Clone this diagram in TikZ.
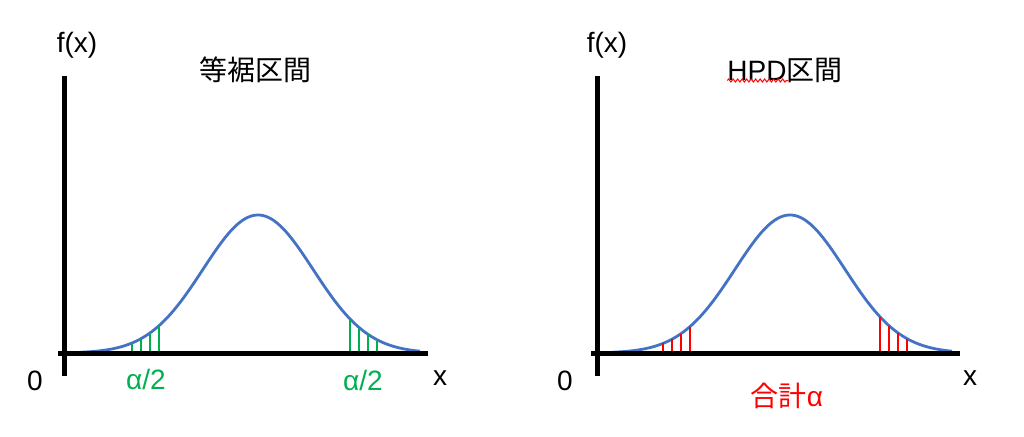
\documentclass[tikz,border=0pt]{standalone}
\usepackage{fontspec}
\setmainfont{Liberation Sans}
\newfontfamily\jp{Noto Sans CJK JP}
\usetikzlibrary{decorations.pathmorphing}

\definecolor{curveblue}{RGB}{68,114,196}
\definecolor{tailgreen}{RGB}{0,176,80}
\definecolor{tailred}{RGB}{255,0,0}

\begin{document}
\begin{tikzpicture}[
    x=1pt, y=-1pt,
    axis/.style={line width=5pt, black},
    bell/.style={line width=2.8pt, curveblue},
    hatchG/.style={line width=2.8pt, tailgreen},
    hatchR/.style={line width=2.8pt, tailred},
    lbl/.style={font=\fontsize{28}{32}\selectfont, inner sep=0pt}
  ]
    \useasboundingbox (0,0) rectangle (1024,436);

    % left panel
    \coordinate (oA) at (64,353);
    \coordinate (ytopA) at (64,76);
    \coordinate (ybotA) at (64,376);
    \coordinate (xlA) at (58,353);
    \coordinate (xrA) at (428,353);
    \draw[bell] plot[domain=80:420, samples=120] (\x, {353-138*exp(-0.5*((\x-258)/55)^2)});
    \foreach \p in {132,141,150,159,350,359,368,377}
      \draw[hatchG] (\p,353) -- (\p,{353-138*exp(-0.5*((\p-258)/55)^2)});
    \draw[axis] (ytopA) -- (ybotA);
    \draw[axis] (xlA) -- (xrA);
    \node[lbl] (fxA) at (77,45) {f(x)};
    \node[lbl] (titleA) at (255,70) {\jp 等裾区間};
    \node[lbl] (zeroA) at (35,381) {0};
    \node[lbl] (xA) at (440,378) {x};
    \node[lbl, text=tailgreen] (alphaL) at (146,379) {α/2};
    \node[lbl, text=tailgreen] (alphaR) at (363,380) {α/2};

    % right panel
    \begin{scope}[xshift=532pt]
      \coordinate (oB) at (65,353);
      \coordinate (ytopB) at (65,76);
      \coordinate (ybotB) at (65,376);
      \coordinate (xlB) at (59,353);
      \coordinate (xrB) at (428,353);
      \draw[bell] plot[domain=80:420, samples=120] (\x, {353-138*exp(-0.5*((\x-258)/55)^2)});
      \foreach \p in {131,140,149,158,348,357,366,375}
        \draw[hatchR] (\p,353) -- (\p,{353-138*exp(-0.5*((\p-258)/55)^2)});
      \draw[axis] (ytopB) -- (ybotB);
      \draw[axis] (xlB) -- (xrB);
      \node[lbl] (fxB) at (75,45) {f(x)};
      \node[lbl] (titleB) at (253,70) {HPD{\jp 区間}};
      \node[lbl] (zeroB) at (33,381) {0};
      \node[lbl] (xB) at (438,378) {x};
      \node[lbl, text=tailred] (total) at (255,396) {{\jp 合計}α};
      \draw[tailred, line width=1pt, decorate,
        decoration={snake, amplitude=1.5pt, segment length=4.5pt}]
        (titleB.south west) ++(0,-2) -- ++(61,0);
    \end{scope}
  \end{tikzpicture}
\end{document}
